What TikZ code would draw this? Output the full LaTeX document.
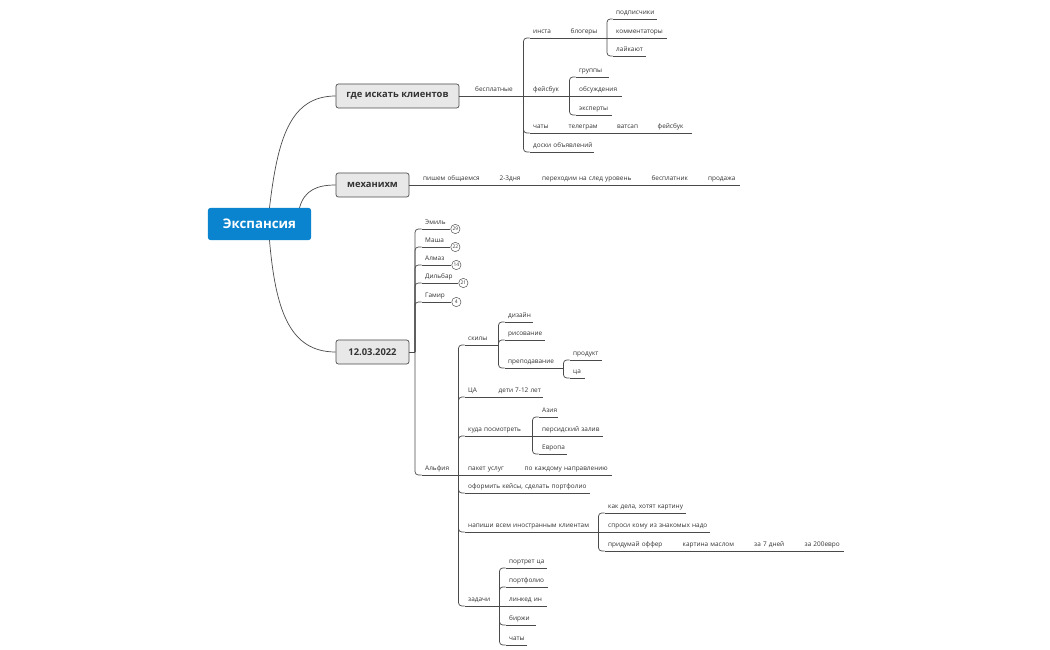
\documentclass[tikz,border=0pt]{standalone}
\usepackage{fontspec}
\setmainfont{Open Sans}
\usepackage{tikz}
\usetikzlibrary{positioning}
\definecolor{xblue}{HTML}{0A84CE}
\definecolor{xgrey}{HTML}{E8E8E8}
\definecolor{xline}{HTML}{4A4A4A}
\definecolor{xtext}{HTML}{333333}
\newcommand\smallfs{\fontsize{5.5}{6.5}\selectfont}

\begin{document}
\begin{tikzpicture}[
  x=0.03cm, y=-0.03cm,
  conn/.style={draw=xline, line width=0.6pt},
  br/.style={conn, rounded corners=0.1cm},
  uline/.style={conn},
  root/.style={
    rectangle, rounded corners=2pt, fill=xblue, text=white,
    font=\fontsize{11.3}{13}\selectfont\bfseries,
    minimum width=3.09cm, minimum height=0.96cm, inner sep=0pt
  },
  main/.style={
    rectangle, rounded corners=2pt, draw=xline, line width=0.6pt,
    fill=xgrey, text=xtext, font=\fontsize{8}{10}\selectfont\bfseries,
    minimum height=0.72cm, inner sep=0pt
  },
  tpbase/.style={
    anchor=south west, text width=#1*0.03cm-0.6cm,
    inner xsep=0.3cm, inner ysep=3.8pt, text depth=0pt,
    font=\smallfs, text=xtext,
    execute at begin node=\hbox\bgroup, execute at end node=\egroup
  },
  tp/.style={tpbase=#1,
    append after command={([xshift=0.2cm]\tikzlastnode.south west) edge[uline] (\tikzlastnode.south east)}},
  tpc/.style={tpbase=#1,
    append after command={(\tikzlastnode.south west) edge[uline] (\tikzlastnode.south east)}},
  cnt/.style={
    circle, draw=xline, line width=0.4pt, fill=white, inner sep=0pt,
    minimum size=0.28cm, anchor=west, text=xtext,
    font=\fontsize{4.2}{4.2}\selectfont
  }
]
  \useasboundingbox (0,0) rectangle (1050,650);

  \node[root] (exp) at (259.5,224) {Экспансия};
  \node[main, minimum width=3.69cm] (gde) at (397.5,96) {где искать клиентов};
  \node[main, minimum width=2.19cm] (mech) at (372.5,185) {механихм};
  \node[main, minimum width=2.19cm] (date) at (372.5,352) {12.03.2022};
  \draw[conn] ([xshift=0.3cm]exp.north) .. controls +(8,-68) and +(-46,0) .. (gde.west);
  \draw[conn] ([xshift=1.2cm]exp.north) .. controls +(5,-18) and +(-18,0) .. (mech.west);
  \draw[conn] ([xshift=0.3cm]exp.south) .. controls +(6,70) and +(-46,0) .. (date.west);

  % где искать клиентов
  \node[tpc=58] (besp) at (465,96) {бесплатные};
  \draw[conn] (gde.east) -- (besp.south west);
  \node[tp=37] (insta) at (523,38) {инста};
  \node[tpc=46] (blog) at (insta.south east) {блогеры};
  \node[tp=51] (podp) at (606,19) {подписчики};
  \node[tpc=61] (komm) at (606,38) {комментаторы};
  \node[tp=40] (laik) at (606,56) {лайкают};
  \node[tpc=46] (fb) at (523,96) {фейсбук};
  \node[tp=40] (grup) at (569,77) {группы};
  \node[tpc=53] (obsu) at (569,96) {обсуждения};
  \node[tp=43] (eksp) at (569,115) {эксперты};
  \node[tp=35] (chats) at (523,133) {чаты};
  \node[tpc=48] (teleg) at (chats.south east) {телеграм};
  \node[tpc=40] (vats) at (teleg.south east) {ватсап};
  \node[tpc=44] (fbb) at (vats.south east) {фейсбук};
  \node[tp=71] (doski) at (523,152) {доски объявлений};
  \foreach \c in {insta,chats,doski}
    \draw[br] (besp.south east) |- ([xshift=0.2cm]\c.south west);
  \foreach \c in {podp,laik}
    \draw[br] (blog.south east) |- ([xshift=0.2cm]\c.south west);
  \foreach \c in {grup,eksp}
    \draw[br] (fb.south east) |- ([xshift=0.2cm]\c.south west);

  % механихм
  \node[tpc=76] (pish) at (413,185) {пишем общаемся};
  \draw[conn] (mech.east) -- (pish.south west);
  \node[tpc=42] (dnya) at (pish.south east) {2-3дня};
  \node[tpc=109] (perex) at (dnya.south east) {переходим на след уровень};
  \node[tpc=56] (bnik) at (perex.south east) {бесплатник};
  \node[tpc=42] (prod) at (bnik.south east) {продажа};

  % 12.03.2022
  \coordinate (dj) at (415,352);
  \draw[conn] (date.east) -- (dj);
  \foreach \n/\t/\w/\y/\k in {emil/Эмиль/35/229/29, masha/Маша/35/247/22,
      almaz/Алмаз/36/265/14, dilbar/Дильбар/43/283/21, gamir/Гамир/36/302/4} {
    \node[tp=\w] (\n) at (415,\y) {\t};
    \node[cnt] (\n-c) at (\n.south east) {\k};
    \draw[br] (dj) |- ([xshift=0.2cm]\n.south west);
  }
  \node[tp=43] (alf) at (415,475) {Альфия};
  \draw[br] (dj) |- ([xshift=0.2cm]alf.south west);

  \node[tp=40] (skil) at (458,345) {скилы};
  \node[tp=35] (diz) at (498,322) {дизайн};
  \node[tp=47] (risov) at (498,340) {рисование};
  \node[tp=65] (prep) at (498,368) {преподавание};
  \node[tp=39] (produkt) at (563,360) {продукт};
  \node[tp=22] (ca) at (563,378) {ца};
  \node[tp=30] (CA) at (458,397) {ЦА};
  \node[tpc=54] (deti) at (CA.south east) {дети 7-12 лет};
  \node[tp=74] (kuda) at (458,436) {куда посмотреть};
  \node[tp=26] (azia) at (532,417) {Азия};
  \node[tpc=71] (pers) at (532,436) {персидский залив};
  \node[tp=35] (evro) at (532,454) {Европа};
  \node[tpc=56] (paket) at (458,475) {пакет услуг};
  \node[tpc=97] (kazhd) at (paket.south east) {по каждому направлению};
  \node[tp=132] (oform) at (458,493) {оформить кейсы, сделать портфолио};
  \node[tp=140] (napis) at (458,532) {напиши всем иностранным клиентам};
  \node[tp=88] (kakd) at (598,513) {как дела, хотят картину};
  \node[tpc=112] (spros) at (598,532) {спроси кому из знакомых надо};
  \node[tp=74] (offer) at (598,551) {придумай оффер};
  \node[tpc=71] (kart) at (offer.south east) {картина маслом};
  \node[tpc=50] (dney) at (kart.south east) {за 7 дней};
  \node[tpc=49] (evr) at (dney.south east) {за 200евро};
  \node[tp=41] (zad) at (458,606) {задачи};
  \node[tp=48] (portr) at (499,568) {портрет ца};
  \node[tp=49] (portf) at (499,587) {портфолио};
  \node[tpc=48] (link) at (499,606) {линкед ин};
  \node[tp=37] (birzh) at (499,625) {биржи};
  \node[tp=28] (chaty) at (499,645) {чаты};
  \foreach \c in {skil,CA,kuda,oform,napis,zad}
    \draw[br] (alf.south east) |- ([xshift=0.2cm]\c.south west);
  \foreach \c in {diz,risov,prep}
    \draw[br] (skil.south east) |- ([xshift=0.2cm]\c.south west);
  \foreach \c in {produkt,ca}
    \draw[br] (prep.south east) |- ([xshift=0.2cm]\c.south west);
  \foreach \c in {azia,evro}
    \draw[br] (kuda.south east) |- ([xshift=0.2cm]\c.south west);
  \foreach \c in {kakd,offer}
    \draw[br] (napis.south east) |- ([xshift=0.2cm]\c.south west);
  \foreach \c in {portr,portf,birzh,chaty}
    \draw[br] (zad.south east) |- ([xshift=0.2cm]\c.south west);
\end{tikzpicture}
\end{document}
